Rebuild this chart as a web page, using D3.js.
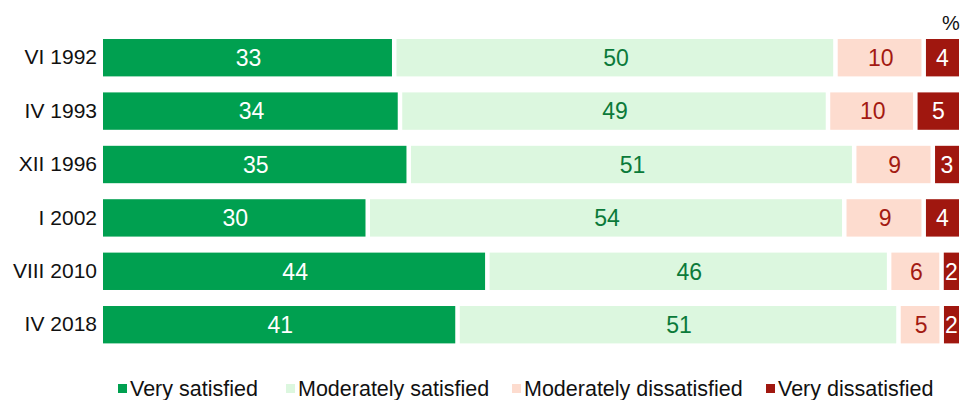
<!DOCTYPE html>
<html>
<head>
<meta charset="utf-8">
<script src="https://cdn.jsdelivr.net/npm/d3@7"></script>
<style>
  body { margin: 0; background: #fff; }
  text { font-family: "Liberation Sans", Arial, sans-serif; }
</style>
</head>
<body>
<div id="chart"></div>
<script>
const periods = ["VI 1992", "IV 1993", "XII 1996", "I 2002", "VIII 2010", "IV 2018"];
const seriesNames = ["Very satisfied", "Moderately satisfied", "Moderately dissatisfied", "Very dissatisfied"];
const verySatisfied = [33, 34, 35, 30, 44, 41];
const moderatelySatisfied = [50, 49, 51, 54, 46, 51];
const moderatelyDissatisfied = [10, 10, 9, 9, 6, 5];
const veryDissatisfied = [4, 5, 3, 4, 2, 2];

const fills = ["#00a050", "#dcf7df", "#fddccf", "#a0170f"];
const labelColors = ["#ffffff", "#0b7a3a", "#a31a12", "#ffffff"];

const width = 963, height = 400;
const margin = {top: 39, right: 4, bottom: 56, left: 103};

const rows = periods.map((p, i) => ({
    period: p,
    s0: verySatisfied[i],
    s1: moderatelySatisfied[i],
    s2: moderatelyDissatisfied[i],
    s3: veryDissatisfied[i]
}));
const keys = ["s0", "s1", "s2", "s3"];

// each bar is stretched to the full width (no "don't know" shown)
const stacked = d3.stack().keys(keys).offset(d3.stackOffsetExpand)(rows);

const svg = d3.select("#chart").append("svg")
    .attr("width", width)
    .attr("height", height);

const x = d3.scaleLinear().domain([0, 1]).range([margin.left, width - margin.right]);
const y = d3.scaleBand().domain(periods)
    .range([margin.top - 8, margin.top - 8 + 53.4 * periods.length])
    .paddingInner(0.3).paddingOuter(0.15);

const gap = 4.5;

const layers = svg.append("g").selectAll("g")
    .data(stacked)
    .enter().append("g");

layers.selectAll("rect")
    .data(d => d.map(v => ({v: v, k: d.index})))
    .enter().append("rect")
    .attr("x", d => x(d.v[0]) + (d.v[0] > 0 ? gap / 2 : 0))
    .attr("y", d => y(d.v.data.period))
    .attr("width", d => {
        let w = x(d.v[1]) - x(d.v[0]);
        if (d.v[0] > 0) w -= gap / 2;
        if (d.v[1] < 0.9999) w -= gap / 2;
        return Math.max(0, w);
    })
    .attr("height", y.bandwidth())
    .attr("fill", d => fills[d.k]);

layers.selectAll("text")
    .data(d => d.map(v => ({v: v, k: d.index})))
    .enter().append("text")
    .attr("x", d => (x(d.v[0]) + x(d.v[1])) / 2 + (d.v[0] > 0 ? gap / 4 : 0))
    .attr("y", d => y(d.v.data.period) + y.bandwidth() / 2)
    .attr("dy", "0.36em")
    .attr("text-anchor", "middle")
    .attr("font-size", 23)
    .attr("fill", d => labelColors[d.k])
    .text(d => d.v.data[keys[d.k]]);

// category axis
const yAxis = d3.axisLeft(y).tickSize(0).tickPadding(6);
svg.append("g")
    .attr("transform", `translate(${margin.left},0)`)
    .call(yAxis)
    .call(g => g.select(".domain").remove())
    .selectAll("text")
    .attr("font-size", 21)
    .attr("fill", "#111")
    .style("font-family", "Liberation Sans, Arial, sans-serif");

svg.append("text")
    .attr("x", 951)
    .attr("y", 30)
    .attr("text-anchor", "middle")
    .attr("font-size", 20)
    .attr("fill", "#111")
    .text("%");

// legend
const legendX = [118, 286, 512, 766];
const legend = svg.append("g").selectAll("g")
    .data(seriesNames)
    .enter().append("g")
    .attr("transform", (d, i) => `translate(${legendX[i]},0)`);

legend.append("rect")
    .attr("x", 0)
    .attr("y", 384)
    .attr("width", 9)
    .attr("height", 9)
    .attr("fill", (d, i) => fills[i]);

legend.append("text")
    .attr("x", 12)
    .attr("y", 396)
    .attr("font-size", 21.5)
    .attr("fill", "#111")
    .text(d => d);
</script>
</body>
</html>
